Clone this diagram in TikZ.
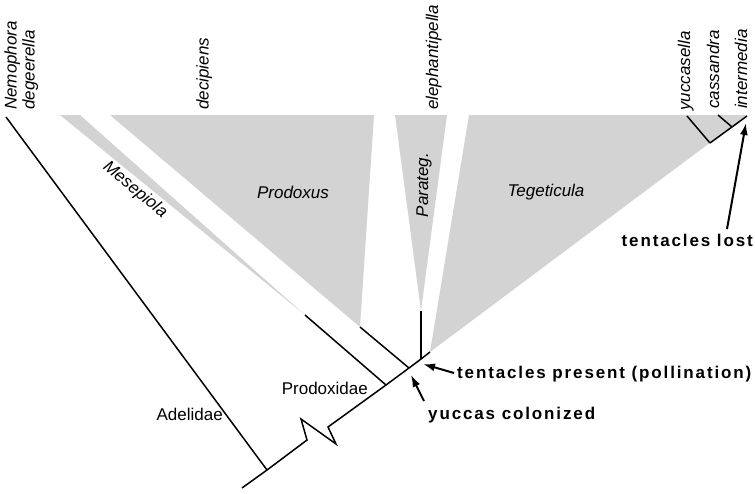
\documentclass[tikz,border=0pt]{standalone}
\usepackage{fontspec}
\setmainfont{Liberation Sans}
\usetikzlibrary{arrows.meta}
\definecolor{shade}{RGB}{211,211,211}
\begin{document}
\begin{tikzpicture}[x=1pt,y=-1pt,
  branch/.style={line width=1.5pt},
  clade/.style={fill=shade, draw=none},
  taxon/.style={font=\fontsize{17}{20}\selectfont\itshape, rotate=90, anchor=base west, inner sep=0pt},
  group/.style={font=\fontsize{17}{20}\selectfont\itshape, inner sep=0pt},
  family/.style={font=\fontsize{17}{20}\selectfont, inner sep=0pt},
  note/.style={font=\fontsize{17}{20}\selectfont\bfseries\addfontfeatures{LetterSpace=11}, inner sep=0pt, anchor=base west},
  pointer/.style={line width=2pt, -{Latex[length=12pt,width=8pt]}}]
\useasboundingbox (0,0) rectangle (755,493);

% coordinates of the tree
\coordinate (root) at (242,488);
\coordinate (adel) at (267,470);
\coordinate (nemo) at (6,117);
\coordinate (z1) at (307,440);
\coordinate (z2) at (301,419);
\coordinate (z3) at (336,444);
\coordinate (z4) at (328,427);
\coordinate (prodx) at (386,385);
\coordinate (mese) at (305,315);
\coordinate (prodj) at (409,368);
\coordinate (prodtip) at (360,327);
\coordinate (parj) at (421,359);
\coordinate (partip) at (421,311);
\coordinate (tegj) at (430,352);
\coordinate (yucj) at (710,143);
\coordinate (yuctip) at (687,116);
\coordinate (casj) at (732,127);
\coordinate (castip) at (718,115);
\coordinate (inttip) at (747,116);

% clades (grey wedges)
\fill[clade] (60,115) -- (80,115) -- (mese) -- cycle;
\fill[clade] (110,115) -- (374,115) -- (prodtip) -- cycle;
\fill[clade] (395,115) -- (447,115) -- (partip) -- cycle;
\fill[clade] (469,115) -- (747,115) -- (tegj) -- cycle;

% branches
\draw[branch] (root) -- (adel) -- (z1) -- (z2) -- (z3) -- (z4) -- (prodx) -- (prodj) -- (parj) -- (tegj);
\draw[branch] (adel) -- (nemo);
\draw[branch] (prodx) -- (mese);
\draw[branch] (prodj) -- (prodtip);
\draw[branch] (parj) -- (partip);
\draw[branch] (yucj) -- (inttip);
\draw[branch] (yucj) -- (yuctip);
\draw[branch] (casj) -- (castip);

% taxon labels
\node[taxon] (nemolab) at (16.5,110) {Nemophora};
\node[taxon] (deglab) at (34.5,110) {degeerella};
\node[taxon] (declab) at (208.5,110) {decipiens};
\node[taxon] (elelab) at (438,110) {elephantipella};
\node[taxon] (yuclab) at (690,111) {yuccasella};
\node[taxon] (caslab) at (719,109) {cassandra};
\node[taxon] (intlab) at (747,109) {intermedia};

% group labels
\node[group, rotate=-39.5] (meselab) at (135,190) {Mesepiola};
\node[group] (prodlab) at (293,192) {Prodoxus};
\node[group, rotate=90] (parlab) at (424,185) {Parateg.};
\node[group] (teglab) at (546,192) {Tegeticula};
\node[family, anchor=base east] (adellab) at (223,420) {Adelidae};
\node[family, anchor=base east] (prodfam) at (368,394) {Prodoxidae};

% notes and arrows
\node[note] (present) at (457,378) {tentacles present (pollination)};
\node[note] (colon) at (428,419) {yuccas colonized};
\node[note, anchor=base east] (lost) at (753,246) {tentacles lost};
\coordinate (presenttail) at (454,373);
\coordinate (presenttip) at (423,364);
\coordinate (colontail) at (424,401);
\coordinate (colontip) at (411,375);
\coordinate (losttail) at (727,229);
\coordinate (losttip) at (746,123);
\draw[pointer] (presenttail) -- (presenttip);
\draw[pointer] (colontail) -- (colontip);
\draw[pointer] (losttail) -- (losttip);
\end{tikzpicture}
\end{document}
